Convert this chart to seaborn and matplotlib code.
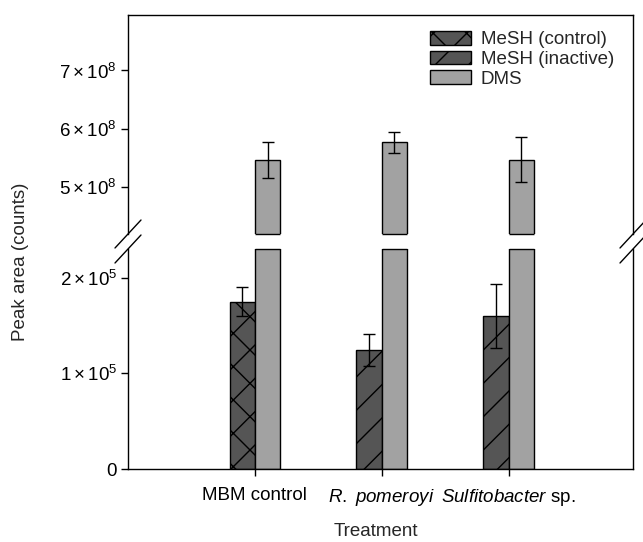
import numpy as np
import pandas as pd
import matplotlib
matplotlib.use("Agg")
import matplotlib.pyplot as plt
import seaborn as sns
from matplotlib.patches import Patch

# ---------------- data ----------------
treatments = ["MBM control", "R. pomeroyi", "Sulfitobacter sp."]
tick_labels = ["MBM control", r"$\mathit{R.}$ $\mathit{pomeroyi}$", r"$\mathit{Sulfitobacter}$ sp."]
mesh_values = [1.75e5, 1.245e5, 1.60e5]
mesh_errors = [0.152e5, 0.165e5, 0.337e5]
dms_values = [5.47e8, 5.77e8, 5.47e8]
dms_errors = [0.31e8, 0.18e8, 0.385e8]
mesh_hatches = ["x", "/", "/"]
legend_labels = ["MeSH (control)", "MeSH (inactive)", "DMS"]
top_ticks = [5e8, 6e8, 7e8]
top_tick_labels = [r"$5\times10^{8}$", r"$6\times10^{8}$", r"$7\times10^{8}$"]
bottom_ticks = [0, 1e5, 2e5]
bottom_tick_labels = ["0", r"$1\times10^{5}$", r"$2\times10^{5}$"]

MESH_C = "#555555"
DMS_C = "#a2a2a2"

sns.set_style("ticks")
plt.rcParams["font.family"] = ["Liberation Sans", "DejaVu Sans"]
plt.rcParams["mathtext.fontset"] = "custom"
plt.rcParams["mathtext.rm"] = "Liberation Sans"
plt.rcParams["mathtext.it"] = "Liberation Sans:italic"
plt.rcParams["hatch.color"] = "black"
plt.rcParams["hatch.linewidth"] = 1.0

df = pd.DataFrame({
    "treatment": treatments * 2,
    "compound": ["MeSH"] * 3 + ["DMS"] * 3,
    "value": mesh_values + dms_values,
    "err": mesh_errors + dms_errors,
})

W, H = 643, 542
fig = plt.figure(figsize=(W / 100, H / 100), dpi=100)
left, right = 128 / W, 633 / W
ax_top = fig.add_axes([left, 1 - 234 / H, right - left, (234 - 15) / H])
ax_bot = fig.add_axes([left, 1 - 469 / H, right - left, (469 - 249) / H])

FS = 13.5

for ax in (ax_top, ax_bot):
    sns.barplot(data=df, x="treatment", y="value", hue="compound",
                hue_order=["MeSH", "DMS"], order=treatments,
                palette={"MeSH": MESH_C, "DMS": DMS_C}, saturation=1,
                width=0.4, edgecolor="black", linewidth=1.0,
                errorbar=None, legend=False, ax=ax)
    mesh_c, dms_c = ax.containers[0], ax.containers[1]
    for bar, h in zip(mesh_c, mesh_hatches):
        bar.set_hatch(h)
    for cont, vals, errs in ((mesh_c, mesh_values, mesh_errors),
                             (dms_c, dms_values, dms_errors)):
        xs = [b.get_x() + b.get_width() / 2 for b in cont]
        ax.errorbar(xs, vals, yerr=errs, fmt="none", ecolor="black",
                    elinewidth=1.0, capsize=4.5, capthick=1.0, zorder=3)
    ax.set_xlim(-1.0, 2.98)
    ax.set_xlabel("")
    ax.set_ylabel("")
    for s in ax.spines.values():
        s.set_linewidth(1.0)
        s.set_color("black")
    ax.tick_params(axis="y", direction="out", length=5, width=1.0,
                   pad=3, labelsize=FS, colors="black")

# top panel
ax_top.set_ylim(4.2e8, 7.95e8)
ax_top.set_yticks(top_ticks)
ax_top.set_yticklabels(top_tick_labels)
ax_top.spines["bottom"].set_visible(False)
ax_top.tick_params(axis="x", bottom=False, labelbottom=False)

# bottom panel
ax_bot.set_ylim(0, 2.3e5)
ax_bot.set_yticks(bottom_ticks)
ax_bot.set_yticklabels(bottom_tick_labels)
ax_bot.spines["top"].set_visible(False)
ax_bot.set_xticks(range(len(treatments)))
ax_bot.set_xticklabels(tick_labels)
ax_bot.tick_params(axis="x", direction="out", length=5, width=1.0,
                   pad=8, labelsize=FS, colors="black")

# outline of bars where they are cut by the axis break
for ax in (ax_top, ax_bot):
    lo, hi = ax.get_ylim()
    for bar in ax.containers[1]:
        x0, w = bar.get_x(), bar.get_width()
        top = bar.get_y() + bar.get_height()
        if ax is ax_top:
            ax.hlines(lo, x0, x0 + w, colors="black", lw=1.0, clip_on=False, zorder=2.5)
        elif top > hi:
            ax.hlines(hi, x0, x0 + w, colors="black", lw=1.0, clip_on=False, zorder=2.5)

# break marks
dx = 13 / (633 - 128)
dyt = 14 / (234 - 15)
dyb = 14 / (469 - 249)
kw = dict(color="black", lw=1.0, clip_on=False)
for xx in (0, 1):
    ax_top.plot([xx - dx, xx + dx], [-dyt, dyt], transform=ax_top.transAxes, **kw)
    ax_bot.plot([xx - dx, xx + dx], [1 - dyb, 1 + dyb], transform=ax_bot.transAxes, **kw)

# legend
handles = [
    Patch(facecolor=MESH_C, edgecolor="black", hatch="x", linewidth=1.0),
    Patch(facecolor=MESH_C, edgecolor="black", hatch="/", linewidth=1.0),
    Patch(facecolor=DMS_C, edgecolor="black", linewidth=1.0),
]
ax_top.legend(handles, legend_labels, loc="upper left",
              bbox_to_anchor=((430 - 128) / 505, 1 - (31 - 15) / 219),
              frameon=False, fontsize=FS, borderpad=0, borderaxespad=0,
              handlelength=2.2, handleheight=0.75, handletextpad=0.5,
              labelspacing=0.12)

fig.text(21 / W, 1 - 262 / H, "Peak area (counts)", rotation=90,
         ha="center", va="center", fontsize=FS)
fig.text(376 / W, 1 - 531 / H, "Treatment", ha="center", va="center", fontsize=FS)

fig.savefig("out.png", dpi=100)
